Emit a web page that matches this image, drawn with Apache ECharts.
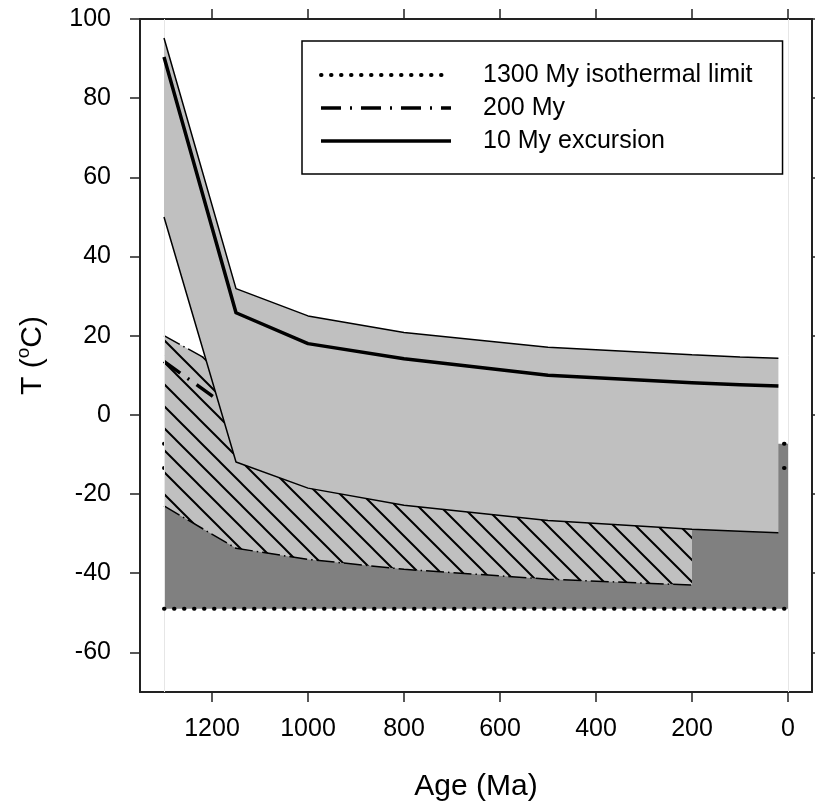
<!DOCTYPE html>
<html>
<head>
<meta charset="utf-8" />
<title>Temperature vs Age</title>
<script src="https://cdn.jsdelivr.net/npm/echarts@6/dist/echarts.min.js"></script>
<style>
  html, body { margin: 0; padding: 0; background: #fff; }
  #chart { width: 815px; height: 808px; }
</style>
</head>
<body>
<div id="chart"></div>
<script>
// axis ticks
const xTicks = [1200, 1000, 800, 600, 400, 200, 0];
const yTicks = [-60, -40, -20, 0, 20, 40, 60, 80, 100];
const edgeAges = [1300, 0];

// 1300 My isothermal limit (dark envelope + dotted lines)
const isoAges = [1300, 0];
const isoUpper = [-7.3, -7.3];
const isoMean = [-13.4, -13.4];
const isoLower = [-49, -49];

// 200 My run (hatched envelope)
const my200Ages = [1300, 1150, 1000, 800, 500, 200];
const my200Upper = [20, 10, 2, -3, -8, -12];
const my200Mean = [13.5, 0.5, -8, -12, -16, -19];
const my200Lower = [-23, -33.7, -36.5, -39, -41.5, -43];

// 10 My excursion (light grey envelope)
const my10Ages = [1300, 1150, 1000, 800, 500, 200, 100, 20];
const my10Upper = [95.2, 31.9, 25, 20.8, 17.1, 15.2, 14.6, 14.3];
const my10Mean = [90.4, 25.8, 18, 14.2, 10, 8.1, 7.6, 7.3];
const my10Lower = [50, -11.9, -18.5, -22.8, -26.7, -28.9, -29.4, -29.8];

const FONT = "'Liberation Sans', Arial, sans-serif";
const pairs = (xs, ys) => xs.map((x, i) => [x, ys[i]]);

// diagonal hatch tile
function makeHatch() {
  const s = 22;
  const c = document.createElement('canvas');
  c.width = s; c.height = s;
  const g = c.getContext('2d');
  g.fillStyle = '#c0c0c0';
  g.fillRect(0, 0, s, s);
  g.strokeStyle = '#000';
  g.lineWidth = 2;
  g.beginPath();
  g.moveTo(-3, -3); g.lineTo(s + 3, s + 3);
  g.moveTo(-3, s - 3); g.lineTo(3, s + 3);
  g.moveTo(s - 3, -3); g.lineTo(s + 3, 3);
  g.stroke();
  return c;
}
const hatchFill = { image: makeHatch(), repeat: 'repeat' };

function band(ages, upper, lower, fill, z, extra) {
  return Object.assign({
    type: 'custom',
    silent: true,
    z: z,
    data: [[ages[0], upper[0]]],
    renderItem: function (params, api) {
      const pts = [];
      ages.forEach((a, i) => pts.push(api.coord([a, upper[i]])));
      for (let i = ages.length - 1; i >= 0; i--) pts.push(api.coord([ages[i], lower[i]]));
      return { type: 'polygon', shape: { points: pts }, style: { fill: fill, stroke: null } };
    }
  }, extra || {});
}

function line(name, ages, vals, style, z) {
  return {
    type: 'line',
    name: name,
    z: z,
    silent: true,
    symbol: 'none',
    showSymbol: false,
    data: pairs(ages, vals),
    lineStyle: Object.assign({ color: '#000' }, style),
    itemStyle: { color: '#000' }
  };
}

const dotted = { width: 4, type: [0.5, 9.5], cap: 'round' };
const dashDotThick = { width: 3.5, type: [20, 9, 2, 9] };
const dashDotThin = { width: 1.5, type: [18, 4, 1.5, 4] };
const thin = { width: 1.5 };
const thick = { width: 3.5, join: 'round' };

const chart = echarts.init(document.getElementById('chart'));

const axisLine = { show: true, onZero: false, lineStyle: { color: '#222', width: 2 } };
const tickStyle = { show: true, inside: false, length: 10, lineStyle: { color: '#222', width: 1.5 } };
const plain = v => String(v);

chart.setOption({
  animation: false,
  backgroundColor: '#fff',
  grid: { left: 140, right: 3, top: 19, bottom: 116 },
  xAxis: [{
    type: 'value', min: -50, max: 1350, inverse: true, position: 'bottom',
    name: 'Age (Ma)', nameLocation: 'middle', nameGap: 80,
    nameTextStyle: { fontSize: 30, color: '#000', fontFamily: FONT },
    axisLine: axisLine,
    axisTick: Object.assign({ customValues: xTicks }, tickStyle),
    axisLabel: { customValues: xTicks, formatter: plain, margin: 25, fontSize: 25, color: '#000', fontFamily: FONT },
    splitLine: { show: false }
  }, {
    type: 'value', min: -50, max: 1350, inverse: true, position: 'top',
    axisLine: axisLine,
    axisTick: Object.assign({ customValues: xTicks }, tickStyle),
    axisLabel: { show: false },
    splitLine: { show: false }
  }],
  yAxis: [{
    type: 'value', min: -70, max: 100, position: 'left',
    name: '{t|T (}{s|o}{t|C)}', nameLocation: 'middle', nameGap: 92,
    nameTextStyle: {
      color: '#000', fontFamily: FONT,
      rich: {
        t: { fontSize: 30, fontFamily: FONT, color: '#000', verticalAlign: 'bottom', lineHeight: 34 },
        s: { fontSize: 19, fontFamily: FONT, color: '#000', verticalAlign: 'top', lineHeight: 34 }
      }
    },
    axisLine: axisLine,
    axisTick: Object.assign({ customValues: yTicks }, tickStyle),
    axisLabel: { customValues: yTicks, formatter: plain, margin: 29, fontSize: 25, color: '#000', fontFamily: FONT },
    splitLine: { show: false }
  }, {
    type: 'value', min: -70, max: 100, position: 'right',
    axisLine: axisLine,
    axisTick: Object.assign({ customValues: yTicks }, tickStyle),
    axisLabel: { show: false },
    splitLine: { show: false }
  }],
  legend: {
    data: ['1300 My isothermal limit', '200 My', '10 My excursion'],
    orient: 'vertical',
    left: 302, top: 41,
    padding: [19, 30, 18, 17],
    itemGap: 3,
    itemWidth: 130,
    itemHeight: 14,
    backgroundColor: '#fff',
    borderColor: '#000',
    borderWidth: 1.5,
    borderRadius: 0,
    selectedMode: false,
    itemStyle: { opacity: 0, borderWidth: 0 },
    lineStyle: { width: 'inherit' },
    textStyle: { fontSize: 25, color: '#000', fontFamily: FONT, lineHeight: 30, padding: [0, 0, 0, 27] }
  },
  series: [
    band(isoAges, isoUpper, isoLower, '#808080', 1, {
      markLine: {
        silent: true, symbol: 'none', label: { show: false },
        lineStyle: { color: '#e6e6e6', type: 'solid', width: 1 },
        data: edgeAges.map(a => ({ xAxis: a }))
      }
    }),
    line('1300 My isothermal limit', isoAges, isoMean, dotted, 2),
    line('', isoAges, isoUpper, dotted, 2),
    line('', isoAges, isoLower, dotted, 9),
    band(my200Ages, my200Upper, my200Lower, hatchFill, 3),
    line('', my200Ages, my200Upper, dashDotThin, 4),
    line('', my200Ages, my200Lower, dashDotThin, 4),
    line('200 My', my200Ages, my200Mean, dashDotThick, 4),
    band(my10Ages, my10Upper, my10Lower, '#c0c0c0', 5),
    line('', my10Ages, my10Upper, thin, 6),
    line('', my10Ages, my10Lower, thin, 6),
    line('10 My excursion', my10Ages, my10Mean, thick, 6)
  ]
});
</script>
</body>
</html>
